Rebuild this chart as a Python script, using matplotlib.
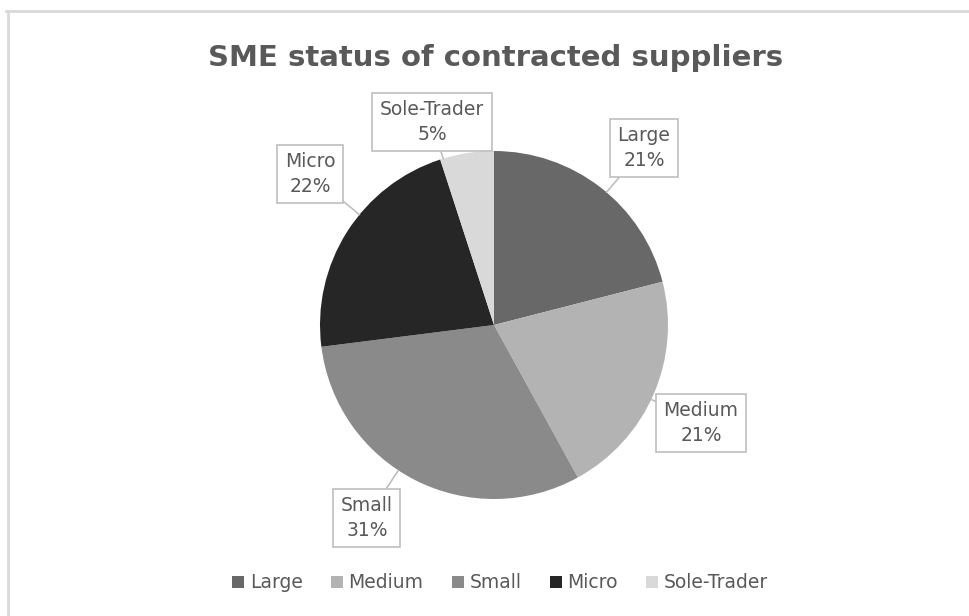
import numpy as np
import matplotlib
matplotlib.use("Agg")
import matplotlib.pyplot as plt
from matplotlib.lines import Line2D

categories = ["Large", "Medium", "Small", "Micro", "Sole-Trader"]
shares = [21, 21, 31, 22, 5]
colors = ["#686868", "#b3b3b3", "#8a8a8a", "#262626", "#d9d9d9"]

# label box centres (pixel layout, y measured from top)
label_pos = [(644, 148), (701, 423), (367, 518), (310, 174), (432, 122)]

TEXT_COL = "#595959"
W, H = 969, 616
CX, CY, R = 494, 325, 174

fig = plt.figure(figsize=(W / 100, H / 100), dpi=100)
ax = fig.add_axes([0, 0, 1, 1])

wedges, _ = ax.pie(shares, colors=colors, startangle=90, counterclock=False,
                   center=(CX, H - CY), radius=R,
                   wedgeprops=dict(linewidth=0), frame=True)
ax.set_xlim(0, W)
ax.set_ylim(0, H)
ax.set_aspect("equal")
ax.axis("off")

# chart-area border (only top and left visible)
ax.add_line(Line2D([6, W], [H - 11, H - 11], color="#d9d9d9", lw=2))
ax.add_line(Line2D([8, 8], [0, H - 11], color="#d9d9d9", lw=2))

for w, name, val, (lx, ly) in zip(wedges, categories, shares, label_pos):
    # leader line points from pie rim straight towards the label box
    ang = np.arctan2((H - ly) - (H - CY), lx - CX)
    edge = (CX + R * np.cos(ang), H - CY + R * np.sin(ang))
    ax.annotate(f"{name}\n{val}%", xy=edge, xytext=(lx, H - ly),
                ha="center", va="center", fontsize=13.5, color=TEXT_COL,
                linespacing=1.35,
                bbox=dict(boxstyle="square,pad=0.4", fc="white",
                          ec="#bfbfbf", lw=1.2),
                arrowprops=dict(arrowstyle="-", color="#bfbfbf", lw=1.2,
                                shrinkA=0, shrinkB=0))

fig.text(496 / W, 1 - 58 / H, "SME status of contracted suppliers",
         ha="center", va="center", fontsize=21, fontweight="bold",
         color=TEXT_COL)

handles = [plt.Rectangle((0, 0), 1, 1, fc=c, ec="none") for c in colors]
fig.legend(handles, categories, loc="center",
           bbox_to_anchor=(500 / W, 1 - 583 / H),
           ncol=5, frameon=False, fontsize=13.5, labelcolor=TEXT_COL,
           handlelength=0.65, handleheight=0.65, handletextpad=0.3,
           columnspacing=1.5)

fig.savefig("out.png", dpi=100)
